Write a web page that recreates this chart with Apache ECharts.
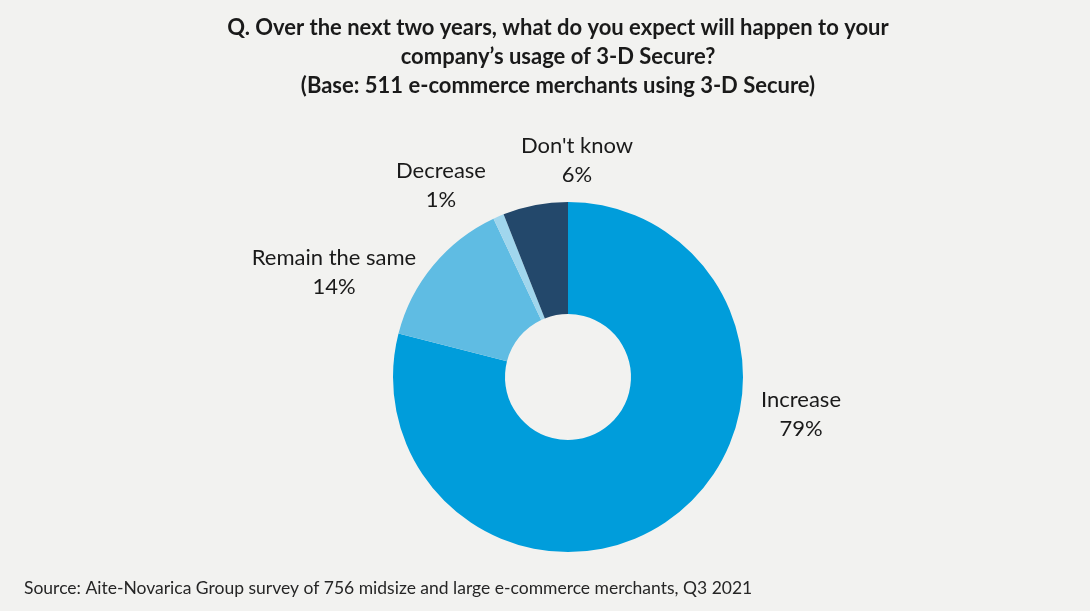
<!DOCTYPE html>
<html>
<head>
<meta charset="utf-8">
<script src="https://cdn.jsdelivr.net/npm/echarts@6/dist/echarts.min.js"></script>
<style>
  html, body { margin: 0; padding: 0; background: #f2f2f0; }
  #chart { width: 1090px; height: 611px; }
</style>
</head>
<body>
<div id="chart"></div>
<script>
// Survey answers and their shares (percent)
const categories = ['Increase', 'Remain the same', 'Decrease', "Don't know"];
const shares = [79, 14, 1, 6];
const colors = ['#009ddb', '#5fbce3', '#a0d6ed', '#23486b'];

// Label anchor points (centre of each two-line label)
const labelSpots = [[801, 414], [334, 272], [441, 185], [577, 160]];

const FONT = 'Lato';

const chart = echarts.init(document.getElementById('chart'), null, { renderer: 'canvas' });

chart.setOption({
  backgroundColor: '#f2f2f0',
  animation: false,
  title: [
    {
      text: 'Q. Over the next two years, what do you expect will happen to your\ncompany\u2019s usage of 3-D Secure?\n(Base: 511 e-commerce merchants using 3-D Secure)',
      left: 558,
      top: 13,
      padding: 0,
      textAlign: 'center',
      textStyle: {
        fontFamily: FONT,
        fontWeight: 'bold',
        fontSize: 22,
        lineHeight: 29,
        color: '#1a1a1a'
      }
    },
    {
      text: 'Source: Aite-Novarica Group survey of 756 midsize and large e-commerce merchants, Q3 2021',
      left: 24,
      top: 579,
      padding: 0,
      textStyle: {
        fontFamily: FONT,
        fontWeight: 'normal',
        fontSize: 17.5,
        color: '#262626'
      }
    }
  ],
  series: [{
    type: 'pie',
    center: [568, 377],
    radius: [63, 175],
    startAngle: 90,
    clockwise: true,
    avoidLabelOverlap: false,
    data: categories.map((name, i) => ({
      name,
      value: shares[i],
      itemStyle: { color: colors[i] }
    })),
    itemStyle: { borderWidth: 0 },
    label: {
      show: true,
      position: 'outside',
      formatter: p => p.name + '\n' + p.value + '%',
      fontFamily: FONT,
      fontSize: 22,
      lineHeight: 29,
      color: '#1a1a1a',
      align: 'center'
    },
    labelLine: { show: false },
    labelLayout: p => ({
      x: labelSpots[p.dataIndex][0],
      y: labelSpots[p.dataIndex][1],
      align: 'center',
      verticalAlign: 'middle'
    }),
    emphasis: { disabled: true }
  }]
});
</script>
</body>
</html>
